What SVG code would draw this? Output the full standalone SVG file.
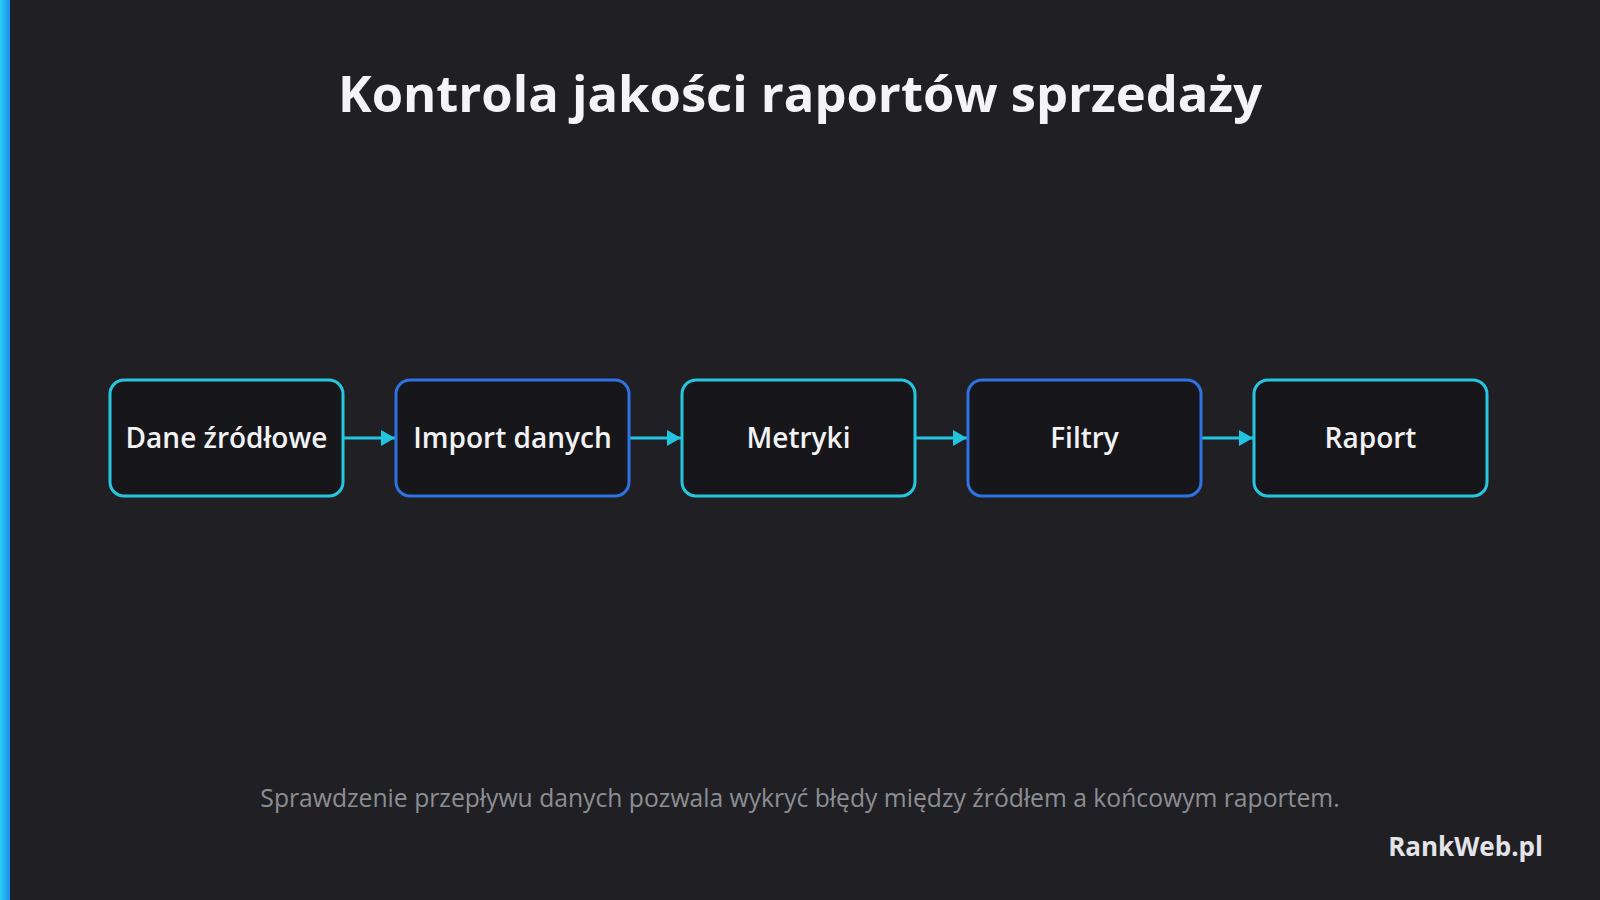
<svg xmlns="http://www.w3.org/2000/svg" width="1600" height="900" viewBox="0 0 1600 900">
  <defs>
    <linearGradient id="bar" x1="0" y1="0" x2="1" y2="0">
      <stop offset="0" stop-color="#2bd0f2"/>
      <stop offset="1" stop-color="#1b8ff0"/>
    </linearGradient>
    <marker id="arr" viewBox="0 0 14 16" refX="14" refY="8" markerWidth="14" markerHeight="16" markerUnits="userSpaceOnUse" orient="auto">
      <path d="M0,0 L14,8 L0,16 Z" fill="#22c4e0"/>
    </marker>
  </defs>
  <style>
    .node rect { fill: #17171b; stroke-width: 3; }
    .cyan rect { stroke: #26c6de; }
    .blue rect { stroke: #2f72e2; }
    .node text { font-family: "Open Sans", "Noto Sans", "Liberation Sans", sans-serif; font-weight: 600; font-size: 28px; fill: #f2f2f4; text-anchor: middle; }
    .conn line { stroke: #22c4e0; stroke-width: 3; }
  </style>
  <rect x="0" y="0" width="1600" height="900" fill="#202024"/>
  <rect x="0" y="0" width="10" height="900" fill="url(#bar)"/>

  <text x="800" y="112" font-family="Open Sans, Noto Sans, Liberation Sans, sans-serif" font-weight="700" font-size="50.7" fill="#f4f4f6" text-anchor="middle">Kontrola jakości raportów sprzedaży</text>

  <g id="connectors" class="conn">
    <line x1="343" y1="438" x2="395" y2="438" marker-end="url(#arr)"/>
    <line x1="629" y1="438" x2="681" y2="438" marker-end="url(#arr)"/>
    <line x1="915" y1="438" x2="967" y2="438" marker-end="url(#arr)"/>
    <line x1="1201" y1="438" x2="1253" y2="438" marker-end="url(#arr)"/>
  </g>

  <g id="node-dane" class="node cyan">
    <rect x="110" y="380" width="233" height="116" rx="14"/>
    <text x="226.5" y="448">Dane źródłowe</text>
  </g>
  <g id="node-import" class="node blue">
    <rect x="396" y="380" width="233" height="116" rx="14"/>
    <text x="512.5" y="448">Import danych</text>
  </g>
  <g id="node-metryki" class="node cyan">
    <rect x="682" y="380" width="233" height="116" rx="14"/>
    <text x="798.5" y="448">Metryki</text>
  </g>
  <g id="node-filtry" class="node blue">
    <rect x="968" y="380" width="233" height="116" rx="14"/>
    <text x="1084.5" y="448">Filtry</text>
  </g>
  <g id="node-raport" class="node cyan">
    <rect x="1254" y="380" width="233" height="116" rx="14"/>
    <text x="1370.5" y="448">Raport</text>
  </g>

  <text x="800" y="807" font-family="Open Sans, Noto Sans, Liberation Sans, sans-serif" font-size="24.7" fill="#8c8e94" text-anchor="middle">Sprawdzenie przepływu danych pozwala wykryć błędy między źródłem a końcowym raportem.</text>

  <text x="1543" y="856" font-family="Open Sans, Noto Sans, Liberation Sans, sans-serif" font-weight="700" font-size="26" fill="#e4e4e8" text-anchor="end">RankWeb.pl</text>
</svg>
